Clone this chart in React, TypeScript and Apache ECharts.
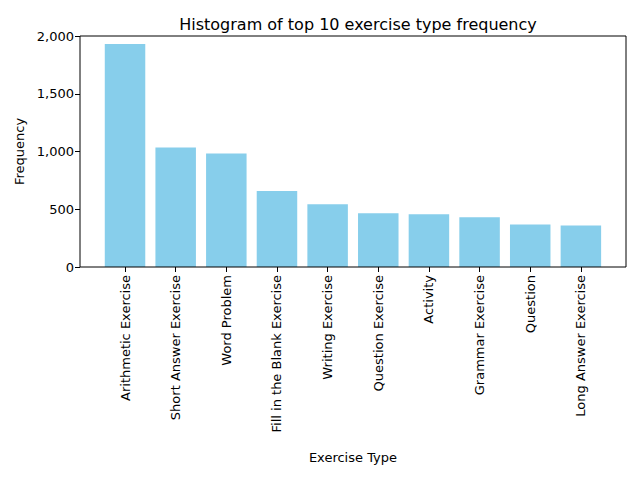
import React, { useEffect, useRef } from "react";
import * as echarts from "echarts";

const categories = [
  "Arithmetic Exercise",
  "Short Answer Exercise",
  "Word Problem",
  "Fill in the Blank Exercise",
  "Writing Exercise",
  "Question Exercise",
  "Activity",
  "Grammar Exercise",
  "Question",
  "Long Answer Exercise",
];
const frequencies = [1930, 1035, 982, 658, 544, 465, 456, 430, 368, 360];

const FONT = "DejaVu Sans";

const App: React.FC = () => {
  const chartRef = useRef<HTMLDivElement>(null);

  useEffect(() => {
    const chartDom = chartRef.current;
    if (!chartDom) return;
    const myChart = echarts.init(chartDom, undefined, { renderer: "svg" });

    const option: echarts.EChartsOption = {
      animation: false,
      textStyle: { fontFamily: FONT },
      title: {
        text: "Histogram of top 10 exercise type frequency",
        left: 353,
        top: 11,
        textAlign: "center",
        textStyle: { fontFamily: FONT, fontSize: 16, fontWeight: "normal", color: "#000" },
      },
      grid: { left: 99.7, width: 506.5, top: 36, height: 231 },
      graphic: [
        {
          type: "rect",
          shape: { x: 80, y: 36, width: 546, height: 231 },
          style: { fill: "none", stroke: "#000", lineWidth: 1 },
          z: 10,
        },
      ],
      xAxis: {
        type: "category",
        data: categories,
        name: "Exercise Type",
        nameLocation: "middle",
        nameGap: 184,
        nameTextStyle: { fontFamily: FONT, fontSize: 13, color: "#000" },
        axisLine: { show: false },
        axisTick: { show: true, alignWithLabel: true, length: 5, lineStyle: { color: "#000" } },
        axisLabel: { rotate: 90, interval: 0, fontSize: 13, color: "#000", fontFamily: FONT, margin: 8 },
      },
      yAxis: {
        type: "value",
        min: 0,
        max: 2000,
        interval: 500,
        offset: 19.7,
        name: "Frequency",
        nameLocation: "middle",
        nameGap: 52,
        nameTextStyle: { fontFamily: FONT, fontSize: 13, color: "#000" },
        axisLine: { show: false },
        axisTick: { show: true, length: 5, lineStyle: { color: "#000" } },
        axisLabel: { fontSize: 13, color: "#000", fontFamily: FONT, margin: 6 },
        splitLine: { show: false },
      },
      series: [
        {
          type: "bar",
          data: frequencies,
          barWidth: 40.5,
          itemStyle: { color: "#87CEEB" },
        },
      ],
    };

    myChart.setOption(option);
    return () => {
      myChart.dispose();
    };
  }, []);

  return <div ref={chartRef} style={{ width: 640, height: 480, margin: -8 }} />;
};

export default App;
